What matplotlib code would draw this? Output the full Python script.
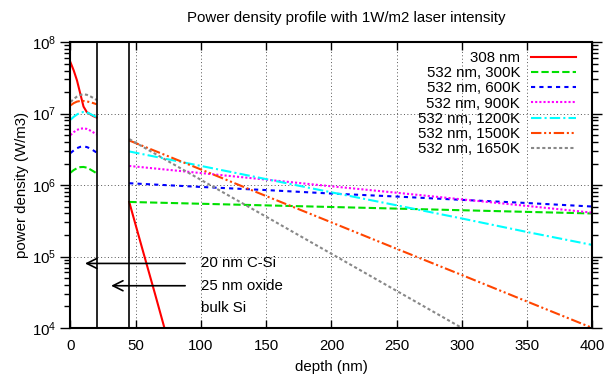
import matplotlib
matplotlib.use("Agg")
import matplotlib.pyplot as plt
from matplotlib.ticker import LogLocator, MultipleLocator, NullFormatter

plt.rcParams["font.family"] = ["Liberation Sans", "DejaVu Sans"]
plt.rcParams["mathtext.fontset"] = "custom"
plt.rcParams["mathtext.rm"] = "Liberation Sans"
plt.rcParams["mathtext.it"] = "Liberation Sans"

# depth grids (nm)
depth_csi = [0, 2.5, 5, 7.5, 10, 12.5, 15, 17.5, 20]
depth_bulk = [45, 100, 150, 200, 250, 300, 350, 400]
depth_bulk_1650 = [45, 100, 150, 200, 250, 300]
depth_bulk_308 = [45, 55, 65, 72]

# power density (W/m3) in the 20 nm C-Si layer
p308_csi = [5.2e7, 4.0e7, 2.9e7, 1.9e7, 1.25e7, 1.05e7, 9.8e6, 9.2e6, 8.8e6]
p300_csi = [1.49e6, 1.62e6, 1.72e6, 1.78e6, 1.79e6, 1.75e6, 1.66e6, 1.56e6, 1.46e6]
p600_csi = [2.80e6, 3.05e6, 3.28e6, 3.42e6, 3.46e6, 3.40e6, 3.25e6, 3.05e6, 2.85e6]
p900_csi = [5.0e6, 5.5e6, 5.9e6, 6.15e6, 6.2e6, 6.1e6, 5.8e6, 5.45e6, 5.1e6]
p1200_csi = [8.2e6, 9.0e6, 9.7e6, 1.03e7, 1.05e7, 1.04e7, 9.9e6, 9.4e6, 8.9e6]
p1500_csi = [1.30e7, 1.40e7, 1.47e7, 1.50e7, 1.50e7, 1.48e7, 1.44e7, 1.40e7, 1.35e7]
p1650_csi = [1.45e7, 1.60e7, 1.73e7, 1.82e7, 1.86e7, 1.83e7, 1.75e7, 1.65e7, 1.55e7]

# power density (W/m3) in bulk Si
p308_bulk = [5.8e5, 1.29e5, 2.9e4, 1.0e4]
p300_bulk = [5.8e5, 5.47e5, 5.19e5, 4.93e5, 4.68e5, 4.44e5, 4.21e5, 4.0e5]
p600_bulk = [1.06e6, 9.4e5, 8.5e5, 7.6e5, 6.9e5, 6.2e5, 5.6e5, 5.0e5]
p900_bulk = [1.85e6, 1.47e6, 1.19e6, 9.6e5, 7.8e5, 6.3e5, 5.1e5, 4.1e5]
p1200_bulk = [2.95e6, 1.85e6, 1.21e6, 7.9e5, 5.2e5, 3.4e5, 2.2e5, 1.45e5]
p1500_bulk = [4.2e6, 1.65e6, 7.0e5, 3.0e5, 1.28e5, 5.5e4, 2.34e4, 1.0e4]
p1650_bulk = [4.4e6, 1.18e6, 3.6e5, 1.09e5, 3.3e4, 1.0e4]

labels = ["308 nm", "532 nm, 300K", "532 nm, 600K", "532 nm, 900K",
          "532 nm, 1200K", "532 nm, 1500K", "532 nm, 1650K"]

fig = plt.figure(figsize=(6.15, 3.77), dpi=100)
ax = fig.add_axes([0.1146, 0.130, 0.8488, 0.7584])

series = [
    (p308_csi, depth_bulk_308, p308_bulk, "#ff0000", "-"),
    (p300_csi, depth_bulk, p300_bulk, "#00e000", (0, (3.5, 1.5))),
    (p600_csi, depth_bulk, p600_bulk, "#0000ff", (0, (2, 2))),
    (p900_csi, depth_bulk, p900_bulk, "#ff00ff", (0, (1, 1))),
    (p1200_csi, depth_bulk, p1200_bulk, "#00ffff", (0, (5, 1.5, 1, 1.5))),
    (p1500_csi, depth_bulk, p1500_bulk, "#ff4500", (0, (5, 1.3, 1, 1.3, 1, 1.3))),
    (p1650_csi, depth_bulk_1650, p1650_bulk, "#888888", (0, (1.5, 1.2))),
]
for (csi, dbulk, bulk, color, ls), label in zip(series, labels):
    ax.plot(depth_csi, csi, color=color, linestyle=ls, linewidth=1.5, label=label)
    ax.plot(dbulk, bulk, color=color, linestyle=ls, linewidth=1.5)

# layer boundaries
ax.axvline(20, color="black", linewidth=1.2)
ax.axvline(45, color="black", linewidth=1.2)

ax.annotate("", xy=(9, 8.0e4), xytext=(90, 8.0e4),
            arrowprops=dict(arrowstyle="->", color="black", lw=1.2, mutation_scale=18))
ax.annotate("", xy=(29, 3.9e4), xytext=(90, 3.9e4),
            arrowprops=dict(arrowstyle="->", color="black", lw=1.2, mutation_scale=18))
ax.text(100, 8.0e4, "20 nm C-Si", fontsize=10.8, va="center")
ax.text(100, 3.9e4, "25 nm oxide", fontsize=10.8, va="center")
ax.text(100, 1.93e4, "bulk Si", fontsize=10.8, va="center")

ax.set_yscale("log")
ax.set_xlim(0, 400)
ax.set_ylim(1e4, 1e8)
ax.xaxis.set_major_locator(MultipleLocator(50))
ax.yaxis.set_major_locator(LogLocator(base=10))
ax.yaxis.set_minor_locator(LogLocator(base=10, subs=range(2, 10)))
ax.yaxis.set_minor_formatter(NullFormatter())
ax.tick_params(axis="x", direction="in", top=True, length=6, width=1, labelsize=10.8, pad=8)
ax.tick_params(axis="y", which="major", direction="out", right=True, length=7, width=1,
               labelsize=10.8)
ax.tick_params(axis="y", which="minor", direction="out", right=True, length=4, width=1)
for sp in ax.spines.values():
    sp.set_linewidth(1.5)

ax.grid(True, which="major", color="#555555", linestyle=(0, (1, 2.5)), linewidth=0.7)

ax.set_xlabel("depth (nm)", fontsize=10.8, labelpad=5)
ax.set_ylabel("power density (W/m3)", fontsize=10.8, labelpad=2)
fig.text(0.563, 0.952, "Power density profile with 1W/m2 laser intensity",
         fontsize=10.8, ha="center", va="center")

ax.legend(loc="upper right", bbox_to_anchor=(0.985, 1.0), frameon=False,
          markerfirst=False, fontsize=10.8, labelspacing=0.08, handlelength=3.0,
          handletextpad=0.7, borderaxespad=0.2)

fig.savefig("out.png", dpi=100)
